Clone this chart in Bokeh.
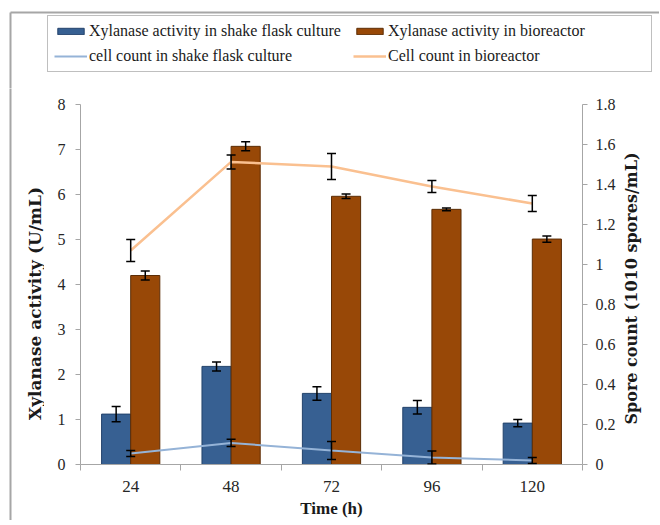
from bokeh.plotting import figure
from bokeh.layouts import column, row
from bokeh.models import (Range1d, LinearAxis, FixedTicker, SingleIntervalTicker,
                          NumeralTickFormatter, ColumnDataSource, Whisker, TeeHead,
                          Legend, LegendItem, Label)
from bokeh.embed import file_html
from bokeh.resources import INLINE
import numpy as np

# ---- data ----
times = ["24", "48", "72", "96", "120"]
xyl_shake = [1.12, 2.18, 1.58, 1.27, 0.92]
xyl_shake_err = [0.17, 0.10, 0.15, 0.15, 0.08]
xyl_bio = [4.20, 7.07, 5.96, 5.67, 5.01]
xyl_bio_err = [0.10, 0.10, 0.05, 0.03, 0.07]
cell_shake = [0.055, 0.108, 0.07, 0.035, 0.02]
cell_shake_err = [0.015, 0.018, 0.045, 0.033, 0.015]
cell_bio = [1.07, 1.513, 1.49, 1.39, 1.305]
cell_bio_err = [0.055, 0.035, 0.065, 0.03, 0.04]

labels = ["Xylanase activity in shake flask culture", "Xylanase activity in bioreactor",
          "cell count in shake flask culture", "Cell count in bioreactor"]
x_title = "Time (h)"
y_title = "Xylanase activity (U/mL)"
y2_title = "Spore count (1010 spores/mL)"

FONT = "Liberation Serif"
TFONT = "DejaVu Serif"
BAR_W = 0.29
C_BLUE, C_BLUE_E = "#376092", "#23426b"
C_BROWN, C_BROWN_E = "#984807", "#5c2d06"
C_LBLUE = "#95b3d7"
C_ORANGE = "#fac090"
AX = "#a6a6a6"
FRAME = "#a6a6a6"

# layout sizes (px)
LEG_H = 88
TOP, FH, BOT = 16, 360, 56
ROW_H = TOP + FH + BOT
LT_W, PL, FW, PR, RT_W = 44, 36, 502, 36, 41
LEG_W = LT_W + PL + FW + PR + RT_W

xc = np.arange(len(times)) + 0.5
def mk(vals, errs, off):
    v = np.array(vals); e = np.array(errs)
    return ColumnDataSource(dict(x=xc + off, y=v, upper=v + e, lower=np.maximum(v - e, 0)))

src_xs = mk(xyl_shake, xyl_shake_err, -BAR_W / 2)
src_xb = mk(xyl_bio, xyl_bio_err, BAR_W / 2)
src_cs = mk(cell_shake, cell_shake_err, 0)
src_cb = mk(cell_bio, cell_bio_err, 0)

def bare(width, height):
    f = figure(width=width, height=height, output_backend="svg", toolbar_location=None,
               x_range=Range1d(0, width), y_range=Range1d(0, height),
               min_border=0, x_axis_location=None, y_axis_location=None)
    f.frame_align = False
    f.xgrid.visible = False
    f.ygrid.visible = False
    f.outline_line_color = None
    return f

# ---- main plot ----
p = figure(frame_width=FW, frame_height=FH, x_range=Range1d(0, len(times)), y_range=Range1d(0, 8),
           output_backend="svg", toolbar_location=None,
           min_border_left=PL, min_border_right=PR, min_border_top=TOP, min_border_bottom=BOT,
           x_axis_location=None, y_axis_location=None)
p.frame_align = False
p.extra_y_ranges = {"cells": Range1d(0, 1.8)}
p.xgrid.visible = False
p.ygrid.visible = False
p.outline_line_color = None

xaxis = LinearAxis(ticker=FixedTicker(ticks=list(xc), minor_ticks=list(range(len(times) + 1))),
                   major_label_overrides={float(x): t for x, t in zip(xc, times)},
                   axis_label=x_title)
xaxis.axis_line_color = AX
xaxis.major_tick_line_color = None
xaxis.major_tick_out = 6
xaxis.major_tick_in = 0
xaxis.minor_tick_line_color = AX
xaxis.minor_tick_out = 6
xaxis.minor_tick_in = 0
xaxis.major_label_standoff = 10
xaxis.major_label_text_font = FONT
xaxis.major_label_text_font_size = "17px"
xaxis.major_label_text_color = "#262626"
xaxis.axis_label_text_font = FONT
xaxis.axis_label_text_font_style = "bold"
xaxis.axis_label_text_font_size = "17px"
xaxis.axis_label_text_color = "#1a1a1a"
xaxis.axis_label_standoff = 4
p.add_layout(xaxis, "below")

yaxis = LinearAxis(ticker=SingleIntervalTicker(interval=1, num_minor_ticks=0),
                   formatter=NumeralTickFormatter(format="0"))
raxis = LinearAxis(y_range_name="cells", ticker=SingleIntervalTicker(interval=0.2, num_minor_ticks=0),
                   formatter=NumeralTickFormatter(format="0.[0]"))
for ax in (yaxis, raxis):
    ax.axis_line_color = AX
    ax.major_tick_line_color = AX
    ax.major_tick_out = 5
    ax.major_tick_in = 0
    ax.minor_tick_line_color = None
    ax.major_label_text_font = FONT
    ax.major_label_text_font_size = "16px"
    ax.major_label_text_color = "#262626"
yaxis.major_label_standoff = 10
raxis.major_label_standoff = 8
p.add_layout(yaxis, "left")
p.add_layout(raxis, "right")

r_xs = p.vbar(x="x", top="y", width=BAR_W, source=src_xs, fill_color=C_BLUE, line_color=C_BLUE_E, line_width=1)
r_xb = p.vbar(x="x", top="y", width=BAR_W, source=src_xb, fill_color=C_BROWN, line_color=C_BROWN_E, line_width=1)
r_cs = p.line(x="x", y="y", source=src_cs, y_range_name="cells", line_color=C_LBLUE, line_width=2)
r_cb = p.line(x="x", y="y", source=src_cb, y_range_name="cells", line_color=C_ORANGE, line_width=2.5)

def whisk(src, rng=None):
    kw = dict(base="x", upper="upper", lower="lower", source=src, line_color="black", line_width=1.5,
              upper_head=TeeHead(size=9, line_color="black", line_width=1.5),
              lower_head=TeeHead(size=9, line_color="black", line_width=1.5), level="annotation")
    if rng:
        kw["y_range_name"] = rng
    p.add_layout(Whisker(**kw))

whisk(src_xs)
whisk(src_xb)
whisk(src_cs, "cells")
whisk(src_cb, "cells")

# ---- left strip: chart-area frame line + left axis title ----
lt = bare(LT_W, ROW_H)
lt.segment(x0=[10], y0=[-5], x1=[10], y1=[ROW_H + 5], line_color=FRAME, line_width=2)
lt.add_layout(Label(x=34, y=ROW_H - (303 - LEG_H), text=y_title, angle=np.pi / 2,
                    text_align="center", text_baseline="middle", text_font=TFONT,
                    text_font_style="bold", text_font_size="17px", text_color="#1a1a1a"))

# ---- right strip: right axis title (reads bottom to top) ----
rt = bare(RT_W, ROW_H)
rt.add_layout(Label(x=13, y=ROW_H - (288 - LEG_H), text=y2_title, angle=np.pi / 2,
                    text_align="center", text_baseline="middle", text_font=TFONT,
                    text_font_style="bold", text_font_size="16px", text_color="#1a1a1a"))

# ---- legend strip ----
leg = bare(LEG_W, LEG_H)
leg.segment(x0=[10, 10], y0=[-5, LEG_H - 12], x1=[10, LEG_W + 5], y1=[LEG_H - 12, LEG_H - 12],
            line_color=FRAME, line_width=2)
leg.extra_x_ranges = {"off": Range1d(100, 101)}
leg.extra_y_ranges = {"offy": Range1d(100, 101)}
l_xs = leg.vbar(x="x", top="y", width=BAR_W, source=src_xs, x_range_name="off", y_range_name="offy",
                fill_color=C_BLUE, line_color=C_BLUE_E, line_width=1)
l_xb = leg.vbar(x="x", top="y", width=BAR_W, source=src_xb, x_range_name="off", y_range_name="offy",
                fill_color=C_BROWN, line_color=C_BROWN_E, line_width=1)
l_cs = leg.line(x="x", y="y", source=src_cs, x_range_name="off", y_range_name="offy",
                line_color=C_LBLUE, line_width=2)
l_cb = leg.line(x="x", y="y", source=src_cb, x_range_name="off", y_range_name="offy",
                line_color=C_ORANGE, line_width=2.5)

legend = Legend(items=[LegendItem(label=labels[0], renderers=[l_xs]),
                       LegendItem(label=labels[1], renderers=[l_xb]),
                       LegendItem(label=labels[2], renderers=[l_cs]),
                       LegendItem(label=labels[3], renderers=[l_cb])],
                orientation="horizontal", ncols=2, location=(47, 16))
legend.glyph_width = 33
legend.glyph_height = 8
legend.label_standoff = 2
legend.label_width = 257
legend.label_height = 16
legend.spacing = 7
legend.padding = 6
legend.margin = 0
legend.label_text_font = FONT
legend.label_text_font_size = "16px"
legend.label_text_color = "#1a1a1a"
legend.border_line_color = "#7f7f7f"
legend.border_line_width = 1.5
legend.background_fill_alpha = 1
leg.add_layout(legend, "center")

layout = column(leg, row(lt, p, rt, spacing=0), spacing=0)

open("out.html", "w").write(file_html(layout, INLINE))
